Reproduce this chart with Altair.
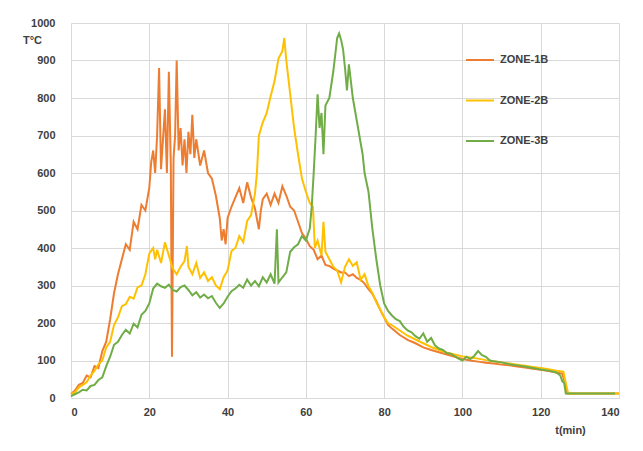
import altair as alt
import pandas as pd

SERIES = ["ZONE-1B", "ZONE-2B", "ZONE-3B"]
COLORS = ["#ED7D31", "#FFC000", "#70AD47"]

t_1b = [0, 1, 2, 3, 4, 5, 6, 7, 8, 9, 10, 11, 12, 13, 14, 15, 16, 17, 18, 19,
        20, 20.5, 21, 21.5, 22, 22.5, 23, 23.5, 24, 24.5, 25, 25.5, 25.8, 26.2,
        26.6, 27, 27.5, 28, 28.5, 29, 29.5, 30, 30.5, 31, 31.5, 32, 33, 34, 35,
        36, 37, 38, 38.5, 39, 39.5, 40, 41, 42, 43, 44, 45, 46, 47, 48, 48.5,
        49, 50, 51, 52, 53, 54, 55, 56, 57, 58, 59, 60, 61, 62, 63, 64, 65, 66,
        67, 68, 69, 70, 71, 72, 73, 74, 75, 76, 77, 78, 79, 80, 81, 82, 84, 86,
        88, 90, 92, 94, 96, 98, 100, 102, 104, 106, 108, 110, 112, 114, 116,
        118, 120, 122, 124, 125.5, 126.2, 126.8, 140]
v_1b = [10, 20, 35, 40, 60, 55, 85, 80, 125, 150, 210, 280, 330, 370, 410, 395,
        470, 450, 515, 500, 560, 630, 660, 600, 700, 880, 610, 690, 770, 600,
        870, 620, 110, 640, 700, 900, 660, 720, 620, 690, 600, 710, 650, 755,
        640, 690, 620, 660, 600, 585, 540, 480, 420, 450, 410, 480, 510, 535,
        560, 520, 575, 535, 505, 450, 500, 530, 545, 515, 545, 520, 565, 540,
        510, 500, 470, 440, 425, 405, 395, 370, 380, 355, 352, 345, 340, 335,
        335, 325, 330, 320, 315, 305, 290, 278, 258, 235, 215, 195, 185, 168,
        155, 146, 135, 128, 122, 116, 110, 104, 100, 97, 94, 92, 89, 87, 84,
        81, 78, 75, 72, 68, 65, 40, 12, 12]

t_2b = [0, 1, 2, 3, 4, 5, 6, 7, 8, 9, 10, 11, 12, 13, 14, 15, 16, 17, 18, 19,
        20, 21, 21.5, 22, 23, 24, 25, 26, 27, 28, 29, 29.6, 30, 31, 32, 33, 34,
        35, 36, 37, 38, 39, 40, 41, 42, 43, 44, 45, 46, 47, 47.5, 48, 49, 50,
        51, 52, 53, 54, 54.5, 55, 56, 57, 58, 59, 60, 61, 61.8, 62.3, 63, 64,
        64.5, 65, 66, 67, 68, 69, 70, 71, 72, 73, 74, 75, 76, 77, 78, 79, 80,
        81, 82, 84, 86, 88, 90, 92, 94, 96, 98, 100, 102, 104, 106, 108, 110,
        112, 114, 116, 118, 120, 122, 124, 125.8, 126.4, 127, 140]
v_2b = [10, 15, 28, 35, 42, 60, 72, 90, 100, 135, 150, 195, 215, 245, 250,
        270, 265, 295, 300, 330, 385, 400, 370, 395, 360, 415, 380, 345, 330,
        350, 365, 405, 350, 330, 360, 320, 335, 312, 322, 300, 290, 322, 340,
        392, 400, 432, 415, 472, 488, 545, 600, 700, 735, 760, 805, 845, 905,
        925, 960, 900, 810, 720, 650, 585, 550, 520, 510, 400, 420, 380, 470,
        390, 370, 350, 340, 308, 350, 370, 352, 362, 315, 330, 298, 280, 255,
        236, 215, 200, 194, 180, 166, 156, 146, 136, 128, 121, 116, 111, 108,
        105, 101, 98, 95, 92, 89, 86, 83, 80, 77, 73, 70, 40, 12, 12]

t_3b = [0, 1, 2, 3, 4, 5, 6, 7, 8, 9, 10, 11, 12, 13, 14, 15, 16, 17, 18, 19,
        20, 21, 22, 23, 24, 25, 26, 27, 28, 29, 30, 31, 32, 33, 34, 35, 36, 37,
        38, 39, 40, 41, 42, 43, 44, 45, 46, 47, 48, 49, 50, 51, 52, 52.6, 53,
        54, 55, 56, 57, 58, 59, 60, 61, 61.5, 62, 62.5, 63, 63.5, 64, 64.5, 65,
        66, 67, 68, 68.5, 69, 69.5, 70, 70.5, 71, 72, 73, 74, 74.5, 75, 76, 77,
        78, 79, 80, 81, 82, 83, 84, 85, 86, 87, 88, 89, 90, 91, 92, 93, 94, 95,
        96, 97, 98, 99, 100, 101, 102, 103, 104, 105, 106, 107, 108, 110, 112,
        114, 116, 118, 120, 122, 124, 125, 125.5, 126, 126.4, 139]
v_3b = [5, 10, 15, 22, 20, 32, 35, 48, 55, 85, 110, 142, 150, 168, 182, 172,
        198, 188, 222, 232, 252, 292, 305, 298, 294, 302, 288, 284, 296, 300,
        288, 274, 282, 268, 276, 266, 272, 254, 240, 252, 270, 285, 292, 302,
        294, 316, 300, 312, 298, 322, 308, 330, 305, 450, 308, 322, 335, 390,
        402, 410, 432, 420, 452, 510, 600, 700, 810, 720, 760, 650, 780, 800,
        870, 960, 972, 955, 930, 880, 820, 890, 800, 740, 680, 650, 600, 550,
        450, 370, 300, 252, 232, 220, 210, 205, 190, 180, 175, 165, 158, 172,
        150, 160, 140, 132, 128, 120, 118, 112, 105, 100, 110, 104, 112, 125,
        114, 110, 100, 98, 95, 90, 87, 84, 80, 76, 73, 68, 60, 45, 40, 12, 12]

X_TICKS = [0, 20, 40, 60, 80, 100, 120, 140]
Y_TICKS = [0, 100, 200, 300, 400, 500, 600, 700, 800, 900, 1000]

frames = []
for name, ts, vs in [(SERIES[0], t_1b, v_1b), (SERIES[1], t_2b, v_2b), (SERIES[2], t_3b, v_3b)]:
    frames.append(pd.DataFrame({"t": ts, "T": vs, "zone": name, "order": range(len(ts))}))
df = pd.concat(frames, ignore_index=True)

FONT = "Liberation Sans"

chart = alt.Chart(df).mark_line(strokeWidth=2).encode(
    x=alt.X("t:Q", scale=alt.Scale(domain=[0, 140], nice=False),
            axis=alt.Axis(values=X_TICKS, format="d", title="t(min)", titleAngle=0,
                          titleX=499, titleY=32, titleAlign="center",
                          titleBaseline="middle", titleFontSize=11,
                          titleFontWeight="bold", titleColor="#404040",
                          labelFontSize=11, labelFontWeight="bold",
                          labelColor="#404040", labelPadding=8, ticks=False,
                          domainColor="#d9d9d9", gridColor="#d9d9d9",
                          labelFont=FONT, titleFont=FONT)),
    y=alt.Y("T:Q", scale=alt.Scale(domain=[0, 1000], nice=False),
            axis=alt.Axis(values=Y_TICKS, format="d", title="T°C", titleAngle=0,
                          titleX=-39, titleY=17, titleAlign="center",
                          titleBaseline="middle", titleFontSize=11,
                          titleFontWeight="bold", titleColor="#404040",
                          labelFontSize=11, labelFontWeight="bold",
                          labelColor="#404040", labelPadding=16, ticks=False,
                          domainColor="#d9d9d9", gridColor="#d9d9d9",
                          labelFont=FONT, titleFont=FONT)),
    color=alt.Color("zone:N", scale=alt.Scale(domain=SERIES, range=COLORS),
                    legend=alt.Legend(title=None, orient="none", legendX=394,
                                      legendY=22, symbolType="stroke",
                                      symbolSize=784, symbolStrokeWidth=2,
                                      rowPadding=20.5, labelOffset=5,
                                      labelFontSize=11, labelFontWeight="bold",
                                      labelColor="#404040", labelFont=FONT)),
    order="order:Q",
    detail="zone:N",
).properties(
    width=548, height=375,
    autosize=alt.AutoSizeParams(type="none"),
    padding={"left": 63, "top": 15, "right": 16, "bottom": 45},
    background="white",
).configure_view(stroke=None)

chart.save("out.html", embed_options={"renderer": "svg", "actions": False})
